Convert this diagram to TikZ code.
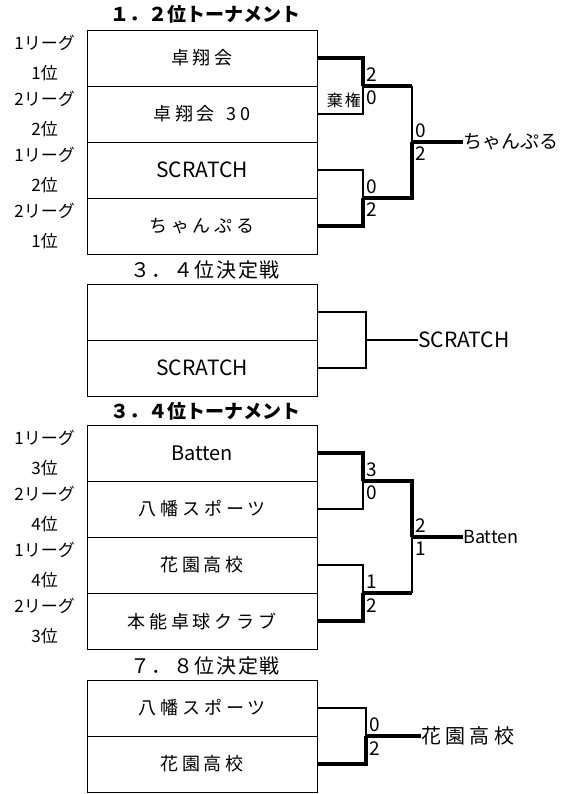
\documentclass[tikz,border=0pt]{standalone}
\usepackage{fontspec}
\setmainfont{Noto Sans CJK JP}
\newfontfamily\jpwide{Noto Sans CJK JP}[LetterSpace=22]
\newfontfamily\jpmid{Noto Sans CJK JP}[LetterSpace=8]
\usetikzlibrary{positioning}
\tikzset{
  team/.style={rectangle, draw, line width=0.8pt, minimum width=230pt, minimum height=56pt,
    inner sep=0pt, outer sep=0pt, font=\fontsize{18}{18}\selectfont},
  teamlat/.style={team, font=\fontsize{21}{21}\selectfont},
  league/.style={align=center, inner sep=0pt, font=\fontsize{17}{30}\selectfont},
  heading/.style={inner sep=0pt, font=\fontsize{20}{20}\selectfont\jpmid},
  boldhead/.style={inner sep=0pt, font=\fontsize{19}{19}\selectfont\bfseries},
  score/.style={inner sep=0pt, font=\fontsize{19}{19}\selectfont},
  champ/.style={anchor=west, inner sep=0pt, font=\fontsize{19}{19}\selectfont},
  lose/.style={line width=1.6pt},
  win/.style={line width=3.2pt},
}
\begin{document}
\begin{tikzpicture}[x=1pt, y=-1pt, node distance=0pt]
\useasboundingbox (0,0) rectangle (578,794);

% 1.2位トーナメント
\node (h12) [boldhead] at (205,14) {１．２位トーナメント};
\node (a1) [team] at (202,58) {\jpwide 卓翔会\hspace{20pt}};
\node (a2) [team, below=of a1] {\jpwide 卓翔会\hspace{12pt}30};
\node (a3) [teamlat, below=of a2] {SCRATCH};
\node (a4) [team, below=of a3] {\jpwide ちゃんぷる};
\node [league, left=12pt of a1] {1リーグ\\1位};
\node [league, left=12pt of a2] {2リーグ\\2位};
\node [league, left=12pt of a3] {1リーグ\\2位};
\node [league, left=12pt of a4] {2リーグ\\1位};

\coordinate (j12a) at (363,86);
\coordinate (j12b) at (363,198);
\coordinate (f12) at (412,142);
\draw [win] (a1.east) -| (j12a);
\draw [lose] (a2.east) -| (j12a);
\draw [lose] (a3.east) -| (j12b);
\draw [win] (a4.east) -| (j12b);
\draw [win] (j12a) -- (j12a -| f12);
\draw [lose] (j12a -| f12) -- (f12);
\draw [win] (j12b) -- (j12b -| f12) -- (f12);
\node (w12) [champ] at (463,142) {ちゃんぷる};
\draw [win] (f12) -- (w12.west);
\node [score, above right=4pt and 3pt of j12a] {2};
\node [score, below right=5pt and 3pt of j12a] {0};
\node [score, anchor=east, font=\fontsize{16}{16}\selectfont] at (361,100) {棄\hspace{2pt}権};
\node [score, above right=4pt and 3pt of j12b] {0};
\node [score, below right=5pt and 3pt of j12b] {2};
\node [score, above right=4pt and 3pt of f12] {0};
\node [score, below right=5pt and 3pt of f12] {2};

% 3.4位決定戦
\node (h34d) [heading] at (205,270) {３．４位決定戦};
\node (b1) [team] at (202,312) {};
\node (b2) [teamlat, below=of b1] {SCRATCH};
\coordinate (j34d) at (366,340);
\draw [lose] (b1.east) -| (j34d);
\draw [lose] (b2.east) -| (j34d);
\node (w34d) [champ, font=\fontsize{21}{21}\selectfont] at (418,340) {SCRATCH};
\draw [lose] (j34d) -- (w34d.west);

% 3.4位トーナメント
\node (h34) [boldhead] at (205,411) {３．４位トーナメント};
\node (c1) [teamlat, font=\fontsize{20}{20}\selectfont] at (202,453) {Batten};
\node (c2) [team, below=of c1] {\jpwide 八幡スポーツ};
\node (c3) [team, below=of c2] {\jpwide 花園高校};
\node (c4) [team, below=of c3] {\jpwide 本能卓球クラブ};
\node [league, left=12pt of c1] {1リーグ\\3位};
\node [league, left=12pt of c2] {2リーグ\\4位};
\node [league, left=12pt of c3] {1リーグ\\4位};
\node [league, left=12pt of c4] {2リーグ\\3位};

\coordinate (j34a) at (363,481);
\coordinate (j34b) at (363,593);
\coordinate (f34) at (412,537);
\draw [win] (c1.east) -| (j34a);
\draw [lose] (c2.east) -| (j34a);
\draw [lose] (c3.east) -| (j34b);
\draw [win] (c4.east) -| (j34b);
\draw [win] (j34a) -- (j34a -| f34) -- (f34);
\draw [win] (j34b) -- (j34b -| f34);
\draw [lose] (j34b -| f34) -- (f34);
\node (w34) [champ, font=\fontsize{18}{18}\selectfont] at (463,537) {Batten};
\draw [win] (f34) -- (w34.west);
\node [score, above right=4pt and 3pt of j34a] {3};
\node [score, below right=5pt and 3pt of j34a] {0};
\node [score, above right=4pt and 3pt of j34b] {1};
\node [score, below right=5pt and 3pt of j34b] {2};
\node [score, above right=4pt and 3pt of f34] {2};
\node [score, below right=5pt and 3pt of f34] {1};

% 7.8位決定戦
\node (h78) [heading] at (205,666) {７．８位決定戦};
\node (d1) [team] at (202,708) {\jpwide 八幡スポーツ};
\node (d2) [team, below=of d1] {\jpwide 花園高校};
\coordinate (j78) at (366,736);
\draw [lose] (d1.east) -| (j78);
\draw [win] (d2.east) -| (j78);
\node (w78) [champ, font=\fontsize{20}{20}\selectfont] at (421,736) {\jpwide 花園高校};
\draw [win] (j78) -- (w78.west);
\node [score, above right=4pt and 3pt of j78] {0};
\node [score, below right=5pt and 3pt of j78] {2};
\end{tikzpicture}
\end{document}
